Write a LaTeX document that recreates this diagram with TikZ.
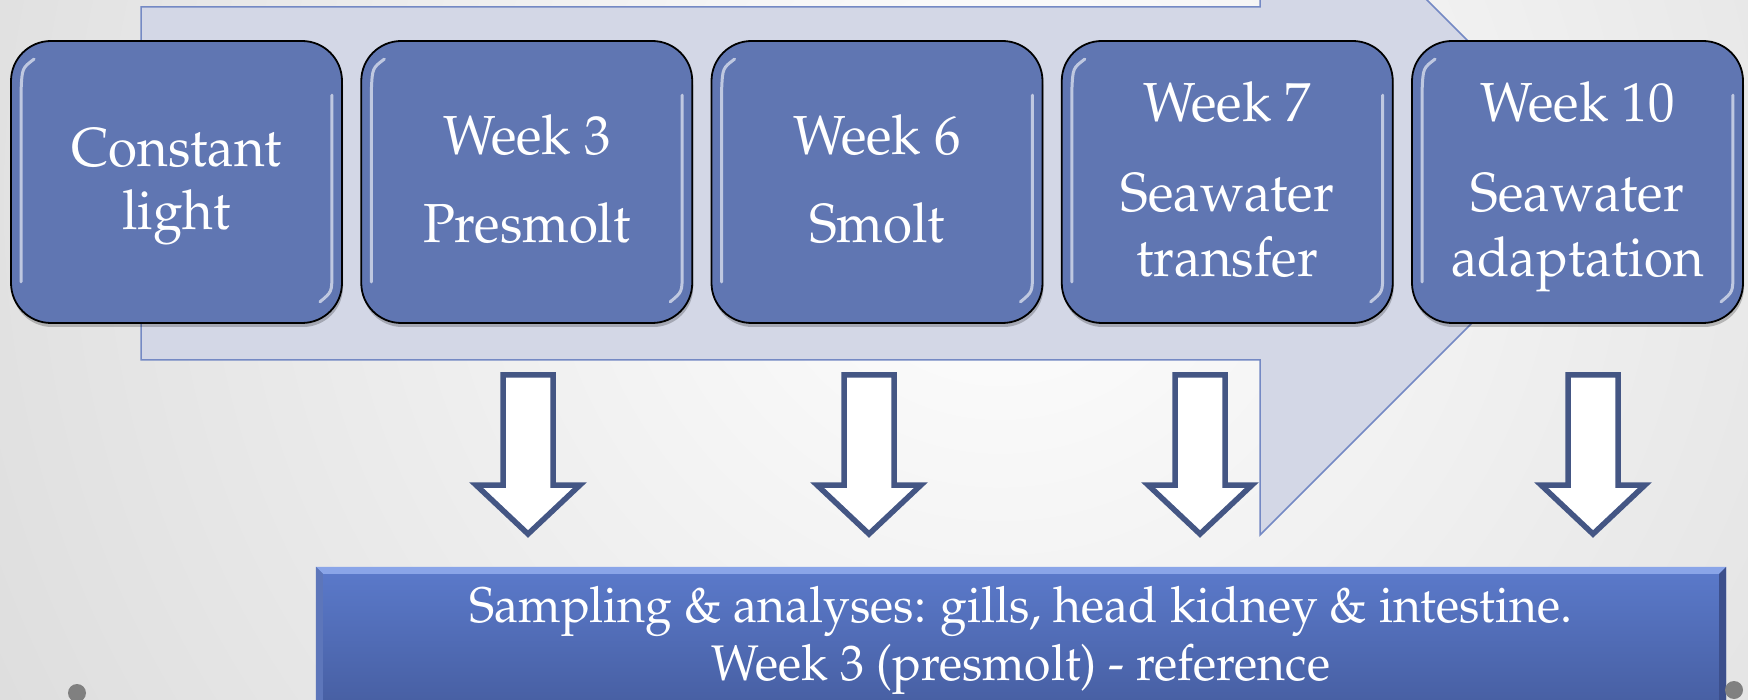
\documentclass[tikz,border=0pt]{standalone}
\usepackage[T1]{fontenc}
\usepackage{mathpazo}
\usetikzlibrary{calc}

\definecolor{bgouter}{HTML}{DADADA}
\definecolor{bandfill}{HTML}{D3D7E6}
\definecolor{bandline}{HTML}{7489C4}
\definecolor{stagefill}{HTML}{6076B2}
\definecolor{arrowline}{HTML}{445684}
\definecolor{samptop}{HTML}{5B7ACB}
\definecolor{sampbot}{HTML}{455C9E}
\definecolor{bevellight}{HTML}{8AA5E8}
\definecolor{bevelside}{HTML}{5D76BA}
\definecolor{beveldark}{HTML}{3C4F8C}
\definecolor{dotgray}{HTML}{808080}

\tikzset{
  stage/.style={draw=black, line width=1.8pt, fill=stagefill, rounded corners=40pt,
    minimum width=331pt, minimum height=282pt, inner sep=0pt},
  stageshadow/.style={fill=black, opacity=0.22, rounded corners=40pt},
  stagetext/.style={text=white, anchor=base, inner sep=0pt, xscale=0.96,
    font=\fontsize{55}{60}\selectfont},
  samptext/.style={text=white, anchor=base, inner sep=0pt, xscale=0.96,
    font=\fontsize{50}{56}\selectfont},
  gloss/.style={white, opacity=0.6, line width=3pt, line cap=round},
  droparrow/.style={draw=arrowline, fill=white, line width=5.5pt, miter limit=10},
}

\begin{document}
\begin{tikzpicture}[x=1pt,y=-1pt]
\useasboundingbox (0,0) rectangle (1748,700);
\begin{scope}
\clip (0,0) rectangle (1748,700);

% soft radial backdrop
\shade[inner color=white, outer color=bgouter] (1000,200) circle (1250);

% broad timeline arrow behind the stages
\draw[bandline, fill=bandfill, line width=1.5pt]
  (141,7) -- (1260,7) -- (1260,-167) -- (1611,184) -- (1260,535)
  -- (1260,360) -- (141,360) -- cycle;

% stage boxes
\foreach \i in {0,...,4} {
  \fill[stageshadow] ({12+350.25*\i},45) rectangle ++(331,282);
}
\foreach \n/\cx in {s1/176.5, s2/526.75, s3/877, s4/1227.25, s5/1577.5} {
  \node[stage] (\n) at (\cx,182) {};
  \draw[gloss] ($(\n.north west)+(24,19)$) .. controls ($(\n.north west)+(12,28)$) ..
    ($(\n.north west)+(11,50)$) -- ($(\n.south west)+(11,-42)$);
  \draw[gloss] ($(\n.north east)+(-11,55)$) -- ($(\n.south east)+(-11,-50)$)
    .. controls ($(\n.south east)+(-11,-32)$) .. ($(\n.south east)+(-23,-22)$);
}

\node[stagetext] (t1a) at (176.5,167) {Constant};
\node[stagetext] (t1b) at (176.5,230) {light};
\node[stagetext] (t2a) at (526.75,155) {Week 3};
\node[stagetext] (t2b) at (526.75,243) {Presmolt};
\node[stagetext] (t3a) at (877,155) {Week 6};
\node[stagetext] (t3b) at (877,243) {Smolt};
\node[stagetext] (t4a) at (1227.25,122) {Week 7};
\node[stagetext] (t4b) at (1227.25,212) {Seawater};
\node[stagetext] (t4c) at (1227.25,277) {transfer};
\node[stagetext] (t5a) at (1577.5,122) {Week 10};
\node[stagetext] (t5b) at (1577.5,212) {Seawater};
\node[stagetext] (t5c) at (1577.5,277) {adaptation};

% hollow sampling arrows
\foreach \n/\cx in {d1/528, d2/869, d3/1200, d4/1593} {
  \coordinate (\n) at (\cx,375);
  \draw[droparrow] ($(\n)+(-25,0)$) -- ($(\n)+(25,0)$) -- ($(\n)+(25,110)$)
    -- ($(\n)+(52,110)$) -- ($(\n)+(0,159)$) -- ($(\n)+(-52,110)$)
    -- ($(\n)+(-25,110)$) -- cycle;
}

% sampling panel with bevelled edges
\node[rectangle, minimum width=1410pt, minimum height=153pt, inner sep=0pt,
  top color=samptop, bottom color=sampbot] (samp) at (1021,643.5) {};
\fill[bevellight] (samp.north west) -- (samp.north east) -- ($(samp.north east)+(-7,7)$)
  -- ($(samp.north west)+(7,7)$) -- cycle;
\fill[bevelside] (samp.north west) -- ($(samp.north west)+(7,7)$)
  -- ($(samp.south west)+(7,0)$) -- (samp.south west) -- cycle;
\fill[beveldark] (samp.north east) -- ($(samp.north east)+(-7,7)$)
  -- ($(samp.south east)+(-7,0)$) -- (samp.south east) -- cycle;

\node[samptext] (sa) at (1021,622) {Sampling \& analyses: gills, head kidney \& intestine.};
\node[samptext] (sb) at (1021,680) {Week 3 (presmolt) - reference};

% small grey markers at the lower corners
\fill[dotgray] (77,693) circle (9);
\fill[dotgray] (1734,690) circle (9);
\end{scope}
\end{tikzpicture}
\end{document}
